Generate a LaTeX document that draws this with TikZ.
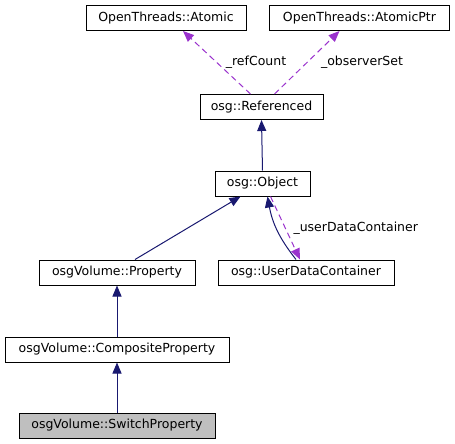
\documentclass[tikz,border=0pt]{standalone}
\usepackage{fontspec}
\setmainfont{DejaVu Sans}
\usetikzlibrary{arrows.meta}
\definecolor{navy}{HTML}{191970}
\definecolor{orchid}{HTML}{9A32CD}
\definecolor{boxgray}{HTML}{BFBFBF}
\begin{document}
\begin{tikzpicture}[x=1pt,y=-1pt,
  cls/.style={draw=black,line width=1pt,inner sep=0pt,minimum height=25pt,font=\fontsize{12.5}{15}\selectfont},
  inh/.style={navy,line width=1pt,-{Triangle[length=11pt,width=9pt]}},
  dep/.style={orchid,line width=1pt,dash pattern=on 6pt off 4pt,-{Triangle[length=11pt,width=9pt]}},
  lbl/.style={font=\fontsize{12.5}{15}\selectfont}]
\useasboundingbox (0,0) rectangle (455,444);
\node[cls,minimum width=160pt] (atomic) at (166,18) {OpenThreads::Atomic};
\node[cls,minimum width=180pt] (atomicptr) at (359.5,18) {OpenThreads::AtomicPtr};
\node[cls,minimum width=123pt] (ref) at (261.5,107) {osg::Referenced};
\node[cls,minimum width=95pt] (obj) at (262.5,183.5) {osg::Object};
\node[cls,minimum width=156pt] (prop) at (117,272.5) {osgVolume::Property};
\node[cls,minimum width=176pt] (udc) at (306,272.5) {osg::UserDataContainer};
\node[cls,minimum width=224pt] (comp) at (117,349.5) {osgVolume::CompositeProperty};
\node[cls,minimum width=196pt,fill=boxgray] (sw) at (117,425.5) {osgVolume::SwitchProperty};
% dependencies
\draw[dep] ([xshift=-11pt]ref.north) -- ([xshift=17pt]atomic.south);
\draw[dep] ([xshift=13pt]ref.north) -- ([xshift=-20pt]atomicptr.south);
\node[lbl] (lrc) at (256,62) {\_refCount};
\node[lbl] (los) at (362,62) {\_observerSet};
% inheritance
\draw[inh] (obj.north) -- (ref.south);
\draw[inh] ([xshift=18pt]prop.north) -- ([xshift=-22pt]obj.south);
\draw[inh] ([xshift=-10pt]udc.north) to[bend left=14] ([xshift=5pt]obj.south);
\draw[dep] ([xshift=8pt]obj.south) -- ([xshift=-6pt]udc.north);
\node[lbl,anchor=west] (ludc) at (290,228) {\_userDataContainer};
\draw[inh] (comp.north) -- (prop.south);
\draw[inh] (sw.north) -- (comp.south);
\end{tikzpicture}
\end{document}
